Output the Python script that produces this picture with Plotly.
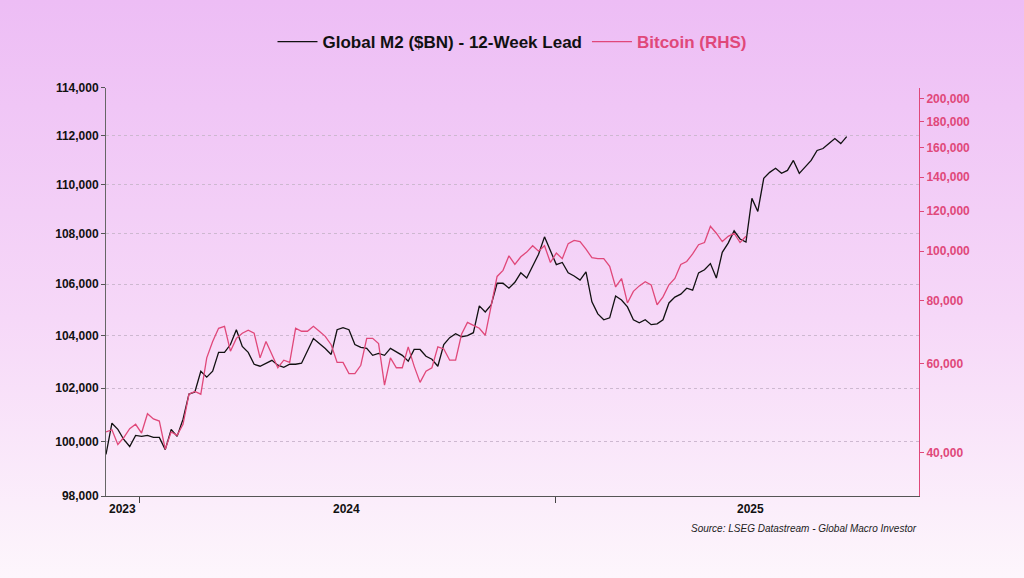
import plotly.graph_objects as go
import pandas as pd

# Global M2 ($BN), 12-week lead, 5-day spacing starting 2024-01-01
m2_values = [99520,100680,100450,100075,99815,100225,100190,100225,100150,100150,
99700,100450,100190,100830,101775,101850,102640,102415,102640,103360,
103360,103660,104230,103585,103360,102905,102830,102945,103055,102870,
102790,102905,102905,102945,103400,103890,103700,103510,103280,104230,
104310,104230,103660,103550,103510,103245,103320,103245,103510,103360,
103245,103020,103470,103470,103210,103095,102830,103660,103925,104075,
103960,104000,104115,105155,104920,105190,106040,106040,105845,106080,
106450,106245,106695,107185,107880,107305,106775,106860,106450,106325,
106165,106490,105310,104845,104615,104690,105540,105385,105115,104615,
104500,104615,104425,104460,104615,105270,105500,105615,105845,105770,
106450,106570,106815,106245,107265,107630,108120,107795,107675,109430,
108900,110245,110490,110655,110450,110570,110980,110450,110735,110980,
111390,111470,111675,111880,111675,111960]

btc_values = [44000,44440,41550,42890,44660,45550,43780,47780,46670,46220,
40670,44000,43330,45550,52220,52890,52220,61590,66340,70460,
71090,63490,67300,68880,69830,68880,61590,66340,62540,58890,
60950,60320,70460,69510,69510,71090,69510,67930,65390,60320,
60320,57330,57330,59560,67300,67300,65710,54440,61590,58890,
58890,64760,59330,55110,58000,58890,64760,64130,60950,60950,
68570,72370,71410,70460,68250,77460,89170,91670,97920,94170,
97500,99580,102500,100000,102500,95000,99170,96670,103500,105000,
104500,101000,97080,96670,96670,93330,85000,88330,79050,83330,
85420,87080,85830,78410,81250,85830,88330,94170,95420,98750,
103000,104000,112000,108500,104500,107000,108500,104000,107000]

left_ticks = [98000,100000,102000,104000,106000,108000,110000,112000,114000]
right_ticks = [40000,60000,80000,100000,120000,140000,160000,180000,200000]
year_labels = ["2023", "2024", "2025"]
year_label_dates = ["2024-01-15", "2024-07-22", "2025-06-28"]
tick_mark_dates = ["2024-01-29", "2025-01-14"]

m2_dates = pd.date_range("2024-01-01", periods=len(m2_values), freq="5D")
btc_dates = pd.date_range("2024-01-01", periods=len(btc_values), freq="5D")

PINK = "#e0487a"
FONT = "Liberation Sans"

fig = go.Figure()
fig.add_trace(go.Scatter(x=m2_dates, y=m2_values, mode="lines",
    line=dict(color="#111111", width=1.3), name="Global M2 ($BN) - 12-Week Lead"))
fig.add_trace(go.Scatter(x=btc_dates, y=btc_values, mode="lines", yaxis="y2",
    line=dict(color=PINK, width=1.3),
    name="<span style='color:%s'>Bitcoin (RHS)</span>" % PINK))

svg = ("data:image/svg+xml;utf8,<svg xmlns='http://www.w3.org/2000/svg' width='1024' height='578'>"
       "<defs><linearGradient id='g' x1='0' y1='0' x2='0' y2='1'>"
       "<stop offset='0' stop-color='%23edbdf5'/><stop offset='0.55' stop-color='%23f6d8f8'/>"
       "<stop offset='1' stop-color='%23fdf6fc'/></linearGradient></defs>"
       "<rect width='1024' height='578' fill='url(%23g)'/></svg>")

fig.add_layout_image(dict(source=svg, xref="paper", yref="paper",
    x=-106/813, y=1+88/408, sizex=1024/813, sizey=578/408,
    sizing="stretch", xanchor="left", yanchor="top", layer="below"))

for lab, d in zip(year_labels, year_label_dates):
    fig.add_annotation(x=d, y=0, xref="x", yref="paper", yshift=-22, text="<b>%s</b>" % lab,
        showarrow=False, font=dict(family=FONT, size=12, color="#111"))

fig.add_annotation(x=1, y=0, xref="paper", yref="paper", yshift=-40, xanchor="right",
    text="<i>Source: LSEG Datastream - Global Macro Investor</i>", showarrow=False,
    font=dict(family=FONT, size=10, color="#222"))

fig.update_layout(
    width=1024, height=578,
    margin=dict(l=106, r=105, t=88, b=82),
    paper_bgcolor="rgba(0,0,0,0)", plot_bgcolor="rgba(0,0,0,0)",
    font=dict(family=FONT, size=12, color="#111"),
    showlegend=True,
    legend=dict(orientation="h", x=0.5, xanchor="center", y=1+46/408, yanchor="middle",
        font=dict(family=FONT, size=17, color="#111"), bgcolor="rgba(0,0,0,0)",
        itemwidth=40, tracegroupgap=0),
    xaxis=dict(type="date", range=["2024-01-01", "2025-11-17"],
        tickvals=tick_mark_dates, ticktext=["", ""], ticks="outside", ticklen=6,
        tickcolor="#444", showgrid=False, showline=True, linecolor="#555",
        zeroline=False),
    yaxis=dict(type="log", range=[4.99123, 5.05690], tickvals=left_ticks,
        ticktext=["<b>%s</b>" % f"{v:,}" for v in left_ticks],
        ticks="outside", ticklen=4, tickcolor="#555",
        showline=True, linecolor="#666", showgrid=True,
        gridcolor="#cdb8d0", griddash="dot", gridwidth=1, zeroline=False),
    yaxis2=dict(type="log", overlaying="y", side="right", range=[4.517, 5.322],
        tickvals=right_ticks,
        ticktext=["<b>%s</b>" % f"{v:,}" for v in right_ticks],
        tickfont=dict(color=PINK, size=12), ticks="outside", ticklen=4,
        tickcolor=PINK, showline=True, linecolor=PINK, showgrid=False,
        zeroline=False),
)
for tr in fig.data:
    tr.name = "<b>%s</b>" % tr.name

fig.write_html("out.html", config={"displayModeBar": False},
    post_script="document.body.style.margin='0';document.body.style.padding='0';")
